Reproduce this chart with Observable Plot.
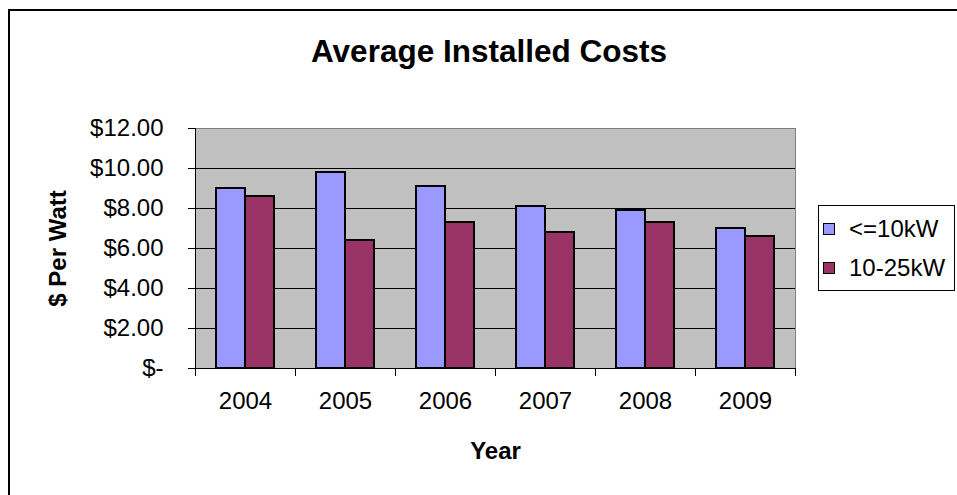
<!DOCTYPE html>
<html>
<head>
<meta charset="utf-8">
<script src="https://cdn.jsdelivr.net/npm/d3@7"></script>
<script src="https://cdn.jsdelivr.net/npm/@observablehq/plot@0.6"></script>
<style>
  html, body { margin: 0; padding: 0; background: #fff; overflow: hidden; }
  body { width: 957px; height: 495px; position: relative; font-family: "Liberation Sans", Arial, sans-serif; }
  #box { position: absolute; left: 8px; top: 9px; width: 1000px; height: 600px;
         border-left: 2px solid #000; border-top: 2px solid #000; box-sizing: border-box; }
  #title { position: absolute; left: 0; width: 978px; top: 33px; text-align: center;
           font-weight: bold; font-size: 31.5px; color: #000; }
  #chart { position: absolute; left: 0; top: 0; }
  #chart g[aria-label$="axis label"] text { font-weight: bold; }
  #legend { position: absolute; left: 818px; top: 205px; width: 137px; height: 86px;
            border: 1px solid #000; box-sizing: border-box; background: #fff; }
  .item { position: absolute; left: 4px; font-size: 24px; line-height: 24px; color: #000; white-space: nowrap; }
  .sw { display: inline-block; width: 10px; height: 10px; border: 1px solid #000;
        margin-right: 14px; vertical-align: middle; position: relative; top: -2px; }
</style>
</head>
<body>
<div id="box"></div>
<div id="title">Average Installed Costs</div>
<div id="chart"></div>
<div id="legend"></div>
<script>
// Average installed cost, dollars per watt, by system size
const years = ["2004", "2005", "2006", "2007", "2008", "2009"];
const seriesNames = ["<=10kW", "10-25kW"];
const small = [9.0, 9.8, 9.1, 8.1, 7.9, 7.0];   // <=10kW
const medium = [8.6, 6.4, 7.3, 6.8, 7.3, 6.6];  // 10-25kW
const seriesColors = ["#9999ff", "#993366"];
const yTicks = [0, 2, 4, 6, 8, 10, 12];

const rows = years.flatMap((year, i) => [
  {year, series: seriesNames[0], value: small[i]},
  {year, series: seriesNames[1], value: medium[i]}
]);

const money = d3.format("$,.2f");

const chart = Plot.plot({
  width: 957,
  height: 495,
  marginLeft: 194,
  marginRight: 162,
  marginTop: 128,
  marginBottom: 127,
  style: {background: "transparent", fontFamily: "'Liberation Sans', Arial, sans-serif", fontSize: "24px", color: "#000"},
  fx: {domain: years, padding: 0, label: "Year", labelAnchor: "center", tickSize: 0, tickPadding: 23, labelOffset: 90},
  x: {domain: seriesNames, paddingInner: 0, paddingOuter: 0.72, axis: null},
  y: {domain: [0, 12], ticks: yTicks, tickFormat: d => d === 0 ? "$-" : money(d),
      tickSize: 7, tickPadding: 25, label: "$ Per Watt", labelAnchor: "center", labelOffset: 147, labelArrow: "none"},
  color: {domain: seriesNames, range: seriesColors},
  marks: [
    Plot.frame({facet: "super", fill: "#c0c0c0", stroke: "#808080"}),
    Plot.ruleY(yTicks.filter(d => d > 0 && d < 12), {stroke: "#000", strokeWidth: 1}),
    Plot.barY(rows, {fx: "year", x: "series", y: "value", fill: "series", stroke: "#000", strokeWidth: 2}),
    Plot.ruleY([0], {stroke: "#000", strokeWidth: 1}),
    Plot.frame({facet: "super", anchor: "left", stroke: "#000"}),
    // category separators below the baseline
    Plot.frame({anchor: "left", stroke: "#000", insetTop: 240, insetBottom: -7}),
    Plot.frame({anchor: "right", stroke: "#000", insetTop: 240, insetBottom: -7})
  ]
});
document.getElementById("chart").append(chart);

// legend
const legend = document.getElementById("legend");
seriesNames.forEach((name, i) => {
  const item = document.createElement("div");
  item.className = "item";
  item.style.top = (11 + i * 39) + "px";
  const sw = document.createElement("span");
  sw.className = "sw";
  sw.style.background = seriesColors[i];
  item.append(sw, document.createTextNode(name));
  legend.append(item);
});
</script>
</body>
</html>
